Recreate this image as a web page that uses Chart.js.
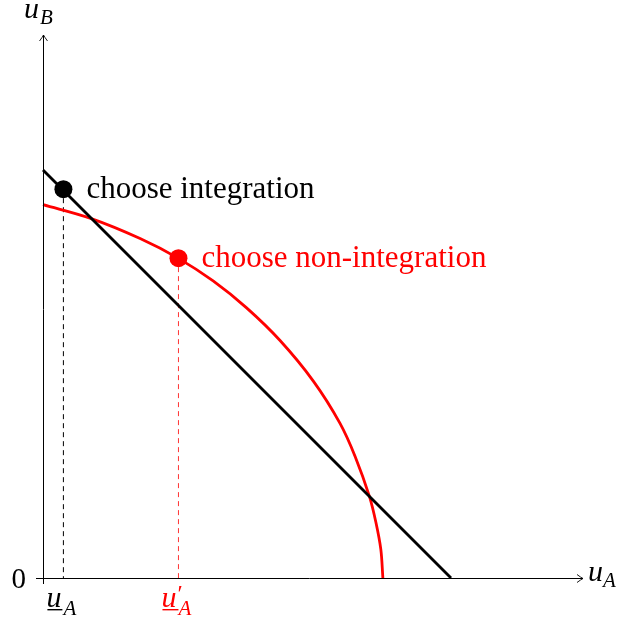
<!DOCTYPE html>
<html>
<head>
<meta charset="utf-8">
<script src="https://cdn.jsdelivr.net/npm/chart.js"></script>
<style>
  html, body { margin: 0; padding: 0; background: #fff; }
  canvas { display: block; }
</style>
</head>
<body>
<canvas id="c" width="630" height="623"></canvas>
<script>
// values (units: black line is uA + uB = 10)
const lineX = [0, 10];
const lineY = [10, 0];
const curveX = [0, 1.15, 2.38, 3.31, 4.17, 4.99, 5.81, 6.63, 7.28, 7.65, 8.00, 8.16, 8.28, 8.33];
const curveY = [9.15, 8.82, 8.32, 7.84, 7.28, 6.62, 5.82, 4.82, 3.79, 2.98, 2.00, 1.36, 0.70, 0];
const integPoint = [0.5, 9.53];
const nonIntegPoint = [3.32, 7.84];
const labels = ["choose integration", "choose non-integration"];

const RED = "#ff0000";
const toPts = (xs, ys) => xs.map((x, i) => ({ x: x, y: ys[i] }));

const serif = '"Liberation Serif", "DejaVu Serif", serif';

// axes, arrows and the math labels
const axesPlugin = {
  id: "axes",
  afterDraw(chart) {
    const ctx = chart.ctx;
    const xs = chart.scales.x, ys = chart.scales.y;
    const x0 = xs.getPixelForValue(0), y0 = ys.getPixelForValue(0);
    const xEnd = xs.right, yEnd = ys.top;
    ctx.save();
    ctx.strokeStyle = "#000";
    ctx.lineWidth = 1;
    ctx.beginPath();
    ctx.moveTo(x0 - 7, y0 + 0.5); ctx.lineTo(xEnd, y0 + 0.5);
    ctx.moveTo(x0 + 0.5, y0 + 6); ctx.lineTo(x0 + 0.5, yEnd);
    ctx.stroke();
    // arrow heads
    ctx.lineWidth = 0.9;
    ctx.beginPath();
    ctx.moveTo(xEnd - 6, y0 + 0.5 - 4);
    ctx.quadraticCurveTo(xEnd - 2, y0 + 0.5 - 1, xEnd, y0 + 0.5);
    ctx.quadraticCurveTo(xEnd - 2, y0 + 0.5 + 1, xEnd - 6, y0 + 0.5 + 4);
    ctx.moveTo(x0 + 0.5 - 4, yEnd + 6);
    ctx.quadraticCurveTo(x0 + 0.5 - 1, yEnd + 2, x0 + 0.5, yEnd);
    ctx.quadraticCurveTo(x0 + 0.5 + 1, yEnd + 2, x0 + 0.5 + 4, yEnd + 6);
    ctx.stroke();

    ctx.textBaseline = "alphabetic";
    ctx.fillStyle = "#000";
    // u_B
    ctx.font = "italic 30px " + serif;
    ctx.fillText("u", x0 - 19, 18);
    ctx.font = "italic 21px " + serif;
    ctx.fillText("B", x0 - 3, 24);
    // u_A on the right
    ctx.font = "italic 30px " + serif;
    ctx.fillText("u", xEnd + 5, y0 + 3);
    ctx.font = "italic 21px " + serif;
    ctx.fillText("A", xEnd + 20, y0 + 9);
    // 0
    ctx.font = "29px " + serif;
    ctx.textAlign = "right";
    ctx.fillText("0", x0 - 17, y0 + 10);
    ctx.textAlign = "left";

    // underline u_A
    const xa = xs.getPixelForValue(integPoint[0]);
    ctx.font = "italic 30px " + serif;
    ctx.fillText("u", xa - 17, y0 + 29);
    ctx.fillRect(xa - 16, y0 + 31, 15, 1.4);
    ctx.font = "italic 21px " + serif;
    ctx.fillText("A", xa, y0 + 37);

    // underline u'_A in red
    const xb = xs.getPixelForValue(nonIntegPoint[0]);
    ctx.fillStyle = RED;
    ctx.font = "italic 30px " + serif;
    ctx.fillText("u", xb - 17, y0 + 29);
    ctx.fillRect(xb - 16, y0 + 31, 16, 1.4);
    ctx.font = "24px " + serif;
    ctx.fillText("\u2032", xb - 1, y0 + 23);
    ctx.font = "italic 21px " + serif;
    ctx.fillText("A", xb, y0 + 37);

    // point labels
    ctx.font = "31px " + serif;
    ctx.fillStyle = "#000";
    ctx.fillText(labels[0], xa + 23, ys.getPixelForValue(integPoint[1]) + 9);
    ctx.fillStyle = RED;
    ctx.fillText(labels[1], xb + 23, ys.getPixelForValue(nonIntegPoint[1]) + 9);
    ctx.restore();
  }
};

new Chart(document.getElementById("c"), {
  type: "scatter",
  data: {
    datasets: [
      { data: [{ x: integPoint[0], y: integPoint[1] }], pointRadius: 9, pointBackgroundColor: "#000", pointBorderWidth: 0, order: 0 },
      { data: [{ x: nonIntegPoint[0], y: nonIntegPoint[1] }], pointRadius: 9, pointBackgroundColor: RED, pointBorderWidth: 0, order: 0 },
      { data: toPts(lineX, lineY), showLine: true, borderColor: "#000", borderWidth: 2.8, pointRadius: 0, order: 1, clip: false },
      { data: toPts(curveX, curveY), showLine: true, borderColor: RED, borderWidth: 2.8, pointRadius: 0, tension: 0.35, order: 2, clip: false },
      { data: [{ x: integPoint[0], y: integPoint[1] }, { x: integPoint[0], y: 0 }], showLine: true, borderColor: "#000", borderWidth: 1, borderDash: [5, 4], pointRadius: 0, order: 3 },
      { data: [{ x: nonIntegPoint[0], y: nonIntegPoint[1] }, { x: nonIntegPoint[0], y: 0 }], showLine: true, borderColor: "rgba(255,0,0,0.8)", borderWidth: 1, borderDash: [5, 4], pointRadius: 0, order: 3 }
    ]
  },
  options: {
    responsive: false,
    animation: false,
    layout: { padding: { left: 43, right: 47, top: 35, bottom: 45 } },
    plugins: { legend: { display: false }, tooltip: { enabled: false } },
    scales: {
      x: { type: "linear", min: 0, max: 13.235, display: false },
      y: { type: "linear", min: 0, max: 13.309, display: false }
    }
  },
  plugins: [axesPlugin]
});
</script>
</body>
</html>
